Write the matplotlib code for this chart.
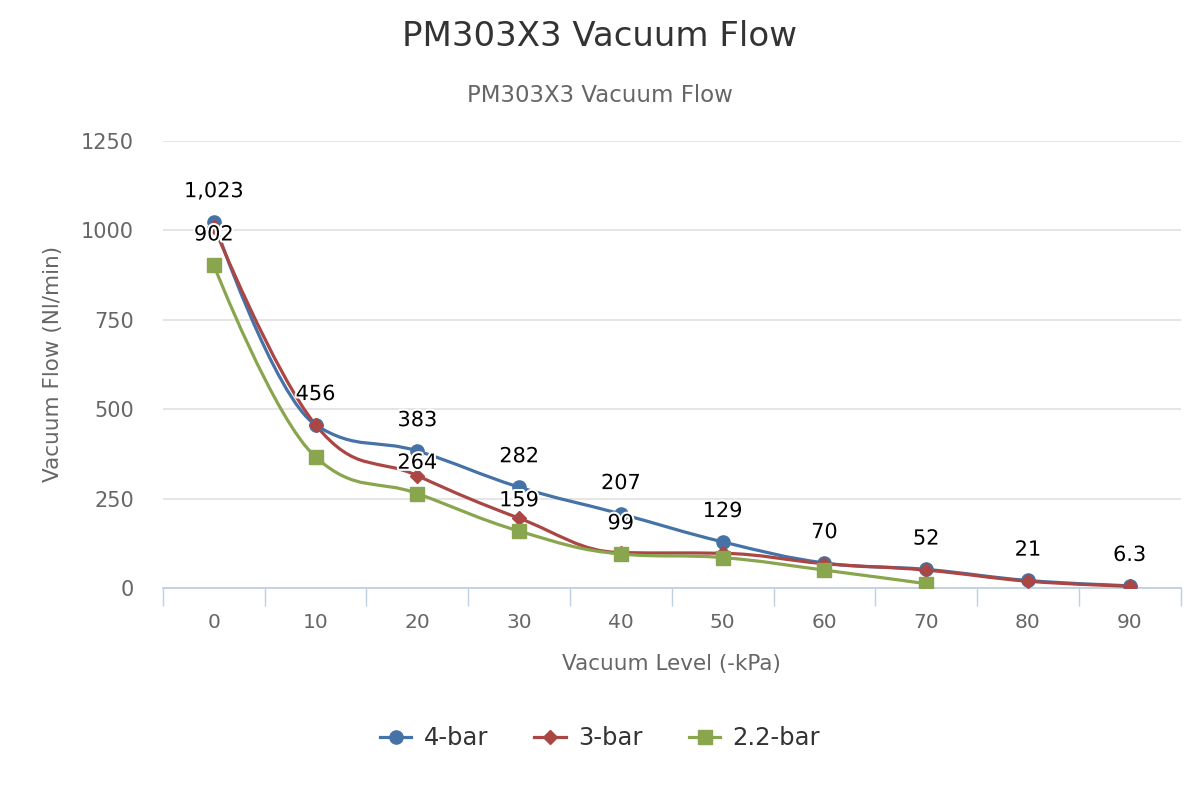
import numpy as np
import matplotlib.pyplot as plt
import matplotlib.patheffects as pe
from matplotlib.path import Path
from matplotlib.patches import PathPatch
from matplotlib.lines import Line2D

plt.rcParams['font.family'] = ['DejaVu Sans']

levels = ['0', '10', '20', '30', '40', '50', '60', '70', '80', '90']
flow_4bar = [1023, 456, 383, 282, 207, 129, 70, 52, 21, 6.3]
flow_3bar = [1010, 456, 314, 195, 99, 97, 68, 50, 19, 5]
flow_22bar = [902, 366, 264, 159, 95, 85, 50, 12]

labels_4bar = ['1,023', '456', '383', '282', '207', '129', '70', '52', '21', '6.3']
labels_22bar = ['902', None, '264', '159', '99', None, None, None]

colors = ['#4572A7', '#AA4643', '#89A54E']


def spline_path(xs, ys, smoothing=1.5):
    # highcharts-style spline: bezier control points around each point
    n = len(xs)
    denom = smoothing + 1
    lc = [(xs[i], ys[i]) for i in range(n)]
    rc = [(xs[i], ys[i]) for i in range(n)]
    for i in range(1, n - 1):
        x, y = xs[i], ys[i]
        lx, ly = xs[i - 1], ys[i - 1]
        nx, ny = xs[i + 1], ys[i + 1]
        lcx = (smoothing * x + lx) / denom
        lcy = (smoothing * y + ly) / denom
        rcx = (smoothing * x + nx) / denom
        rcy = (smoothing * y + ny) / denom
        corr = (rcy - lcy) * (rcx - x) / (rcx - lcx) + y - rcy
        lcy += corr
        rcy += corr
        if lcy > ly and lcy > y:
            lcy = max(ly, y)
            rcy = 2 * y - lcy
        elif lcy < ly and lcy < y:
            lcy = min(ly, y)
            rcy = 2 * y - lcy
        if rcy > ny and rcy > y:
            rcy = max(ny, y)
            lcy = 2 * y - rcy
        elif rcy < ny and rcy < y:
            rcy = min(ny, y)
            lcy = 2 * y - rcy
        lc[i] = (lcx, lcy)
        rc[i] = (rcx, rcy)
    verts = [(xs[0], ys[0])]
    codes = [Path.MOVETO]
    for i in range(1, n):
        verts += [rc[i - 1], lc[i], (xs[i], ys[i])]
        codes += [Path.CURVE4] * 3
    return Path(verts, codes)


fig = plt.figure(figsize=(12, 8), dpi=100)
ax = fig.add_axes([0.1358, 0.265, 0.848, 0.559])

series = [('4-bar', flow_4bar, 'o', 9.5), ('3-bar', flow_3bar, 'D', 7.5), ('2.2-bar', flow_22bar, 's', 9.5)]
handles = []
for (name, vals, mk, ms), c in zip(series, colors):
    xs = np.arange(len(vals))
    p = spline_path(xs, np.array(vals, dtype=float))
    ax.add_patch(PathPatch(p, facecolor='none', edgecolor=c, lw=2.3, zorder=3, capstyle='round'))
    ax.plot(xs, vals, linestyle='none', marker=mk, markersize=ms, color=c, zorder=4)
    handles.append(Line2D([], [], color=c, lw=2.3, marker=mk, markersize=ms))

halo = [pe.withStroke(linewidth=3, foreground='white')]
for i, t in enumerate(labels_4bar):
    ax.annotate(t, (i, flow_4bar[i]), xytext=(0, 15), textcoords='offset points',
                ha='center', va='bottom', fontsize=15, color='black', path_effects=halo, zorder=5)
for i, t in enumerate(labels_22bar):
    if t:
        ax.annotate(t, (i, flow_22bar[i]), xytext=(0, 15), textcoords='offset points',
                    ha='center', va='bottom', fontsize=15, color='black', path_effects=halo, zorder=5)

ax.set_xlim(-0.5, 9.5)
ax.set_ylim(0, 1250)
ax.set_yticks([0, 250, 500, 750, 1000, 1250])
ax.set_xticks(np.arange(len(levels)))
ax.set_xticklabels(levels)
ax.set_xticks(np.arange(-0.5, 10, 1), minor=True)
ax.tick_params(axis='x', which='major', length=0, pad=18, labelsize=14.5, labelcolor='#666666')
ax.tick_params(axis='x', which='minor', length=13, width=1, color='#C0D0E0')
ax.tick_params(axis='y', length=0, pad=21, labelsize=15, labelcolor='#666666')
ax.grid(axis='y', color='#e3e3e3', lw=1.3)
ax.set_axisbelow(True)
for s in ['top', 'right', 'left']:
    ax.spines[s].set_visible(False)
ax.spines['bottom'].set_color('#C0D0E0')
ax.spines['bottom'].set_linewidth(1.3)

ax.set_xlabel('Vacuum Level (-kPa)', fontsize=15.5, color='#666666', labelpad=16)
ax.set_ylabel('Vacuum Flow (Nl/min)', fontsize=15.5, color='#666666', labelpad=13)

fig.text(0.5, 0.955, 'PM303X3 Vacuum Flow', ha='center', va='center', fontsize=24.5, color='#333333')
fig.text(0.5, 0.88, 'PM303X3 Vacuum Flow', ha='center', va='center', fontsize=16.5, color='#666666')

fig.legend(handles, ['4-bar', '3-bar', '2.2-bar'], loc='center', bbox_to_anchor=(0.5, 0.077),
           ncol=3, frameon=False, fontsize=17.5, handlelength=1.3, handletextpad=0.5,
           columnspacing=1.9, labelcolor='#333333')

fig.savefig('out.png', dpi=100)
